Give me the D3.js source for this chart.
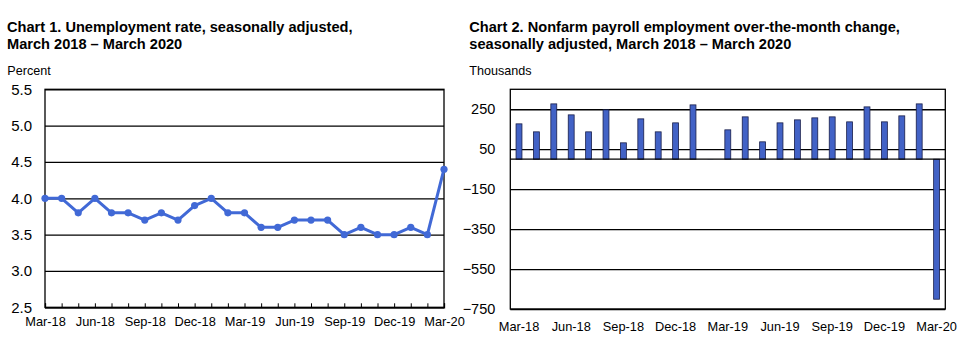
<!DOCTYPE html>
<html>
<head>
<meta charset="utf-8">
<script src="https://cdn.jsdelivr.net/npm/d3@7"></script>
<style>
  html, body { margin: 0; padding: 0; background: #fff; }
  svg { display: block; font-family: "Liberation Sans", Arial, sans-serif; }
</style>
</head>
<body>
<svg id="chart" width="977" height="346"></svg>
<script>
// ---- Data ----
const months = ["Mar-18","Apr-18","May-18","Jun-18","Jul-18","Aug-18","Sep-18","Oct-18","Nov-18","Dec-18",
  "Jan-19","Feb-19","Mar-19","Apr-19","May-19","Jun-19","Jul-19","Aug-19","Sep-19","Oct-19","Nov-19","Dec-19",
  "Jan-20","Feb-20","Mar-20"];
const unemploymentRate = [4.0,4.0,3.8,4.0,3.8,3.8,3.7,3.8,3.7,3.9,4.0,3.8,3.8,3.6,3.6,3.7,3.7,3.7,3.5,3.6,3.5,3.5,3.6,3.5,4.4];
const payrollChange = [177,137,277,222,137,247,82,202,137,182,272,1,147,212,87,182,197,207,212,187,262,187,217,277,-701];
const xTickLabels = ["Mar-18","Jun-18","Sep-18","Dec-18","Mar-19","Jun-19","Sep-19","Dec-19","Mar-20"];
const rateTicks = [2.5,3.0,3.5,4.0,4.5,5.0,5.5];
const payrollTicks = [250,50,-150,-350,-550,-750];
const title1 = ["Chart 1. Unemployment rate, seasonally adjusted,", "March 2018 \u2013 March 2020"];
const title2 = ["Chart 2. Nonfarm payroll employment over-the-month change,", "seasonally adjusted, March 2018 \u2013 March 2020"];

const svg = d3.select("#chart");
const lineColor = "#4169D6";
const barColor = "#4262C6";

// ---- Chart 1 ----
{
  const L = 45, R = 444, T = 89.3, B = 307.3;
  const g = svg.append("g");
  const tg = g.append("text").attr("font-weight", "bold").attr("font-size", 14.6).attr("fill", "#000");
  title1.forEach((t, i) => tg.append("tspan").attr("x", 7).attr("y", 31.5 + i * 17.3).text(t));
  g.append("text").attr("x", 7.3).attr("y", 75).attr("font-size", 12.6).text("Percent");

  const x = d3.scalePoint().domain(months).range([L, R]);
  const y = d3.scaleLinear().domain([2.5, 5.5]).range([B, T]);

  const ya = g.append("g").attr("transform", `translate(${L},0)`)
    .call(d3.axisLeft(y).tickValues(rateTicks).tickFormat(d3.format(".1f")).tickSize(-(R - L)).tickPadding(13));
  ya.select(".domain").remove();
  ya.selectAll(".tick line").attr("stroke", "#000").attr("stroke-width", 1.3);
  ya.selectAll(".tick text").attr("font-size", 15).attr("font-family", "Liberation Sans, Arial, sans-serif").attr("fill", "#000");

  g.append("rect").attr("x", L).attr("y", T).attr("width", R - L).attr("height", B - T)
    .attr("fill", "none").attr("stroke", "#000").attr("stroke-width", 1.3);

  const xa = g.append("g").attr("transform", `translate(0,${B})`)
    .call(d3.axisBottom(x).tickValues(months).tickSize(-4).tickPadding(10)
      .tickFormat(d => xTickLabels.includes(d) ? d : ""));
  xa.select(".domain").attr("stroke", "#000").attr("stroke-width", 1.3);
  xa.selectAll(".tick line").attr("stroke", "#000");
  xa.selectAll(".tick text").attr("font-size", 12.8).attr("font-family", "Liberation Sans, Arial, sans-serif").attr("fill", "#000");

  const line = d3.line().x((d, i) => x(months[i])).y(d => y(d));
  g.append("path").datum(unemploymentRate).attr("d", line)
    .attr("fill", "none").attr("stroke", lineColor).attr("stroke-width", 3).attr("stroke-linejoin", "round");
  g.selectAll("circle.pt").data(unemploymentRate).join("circle").attr("class", "pt")
    .attr("cx", (d, i) => x(months[i])).attr("cy", d => y(d)).attr("r", 3.6).attr("fill", lineColor);
}

// ---- Chart 2 ----
{
  const L = 510.3, R = 945.3, T = 89.3, B = 309;
  const g = svg.append("g");
  const tg = g.append("text").attr("font-weight", "bold").attr("font-size", 14.6).attr("fill", "#000");
  title2.forEach((t, i) => tg.append("tspan").attr("x", 469.3).attr("y", 31.5 + i * 17.3).text(t));
  g.append("text").attr("x", 469.3).attr("y", 75).attr("font-size", 12.6).text("Thousands");

  const x = d3.scaleBand().domain(months).range([L, R]).paddingInner(0.66).paddingOuter(0.33);
  const y = d3.scaleLinear().domain([-750, 350]).range([B, T]);

  const ya = g.append("g").attr("transform", `translate(${L},0)`)
    .call(d3.axisLeft(y).tickValues(payrollTicks).tickSize(-(R - L)).tickPadding(15));
  ya.select(".domain").remove();
  ya.selectAll(".tick line").attr("stroke", "#000").attr("stroke-width", 1.3);
  ya.selectAll(".tick text").attr("font-size", 14.5).attr("font-family", "Liberation Sans, Arial, sans-serif").attr("fill", "#000");

  g.append("rect").attr("x", L).attr("y", T).attr("width", R - L).attr("height", B - T)
    .attr("fill", "none").attr("stroke", "#000").attr("stroke-width", 1.3);

  g.selectAll("rect.bar").data(payrollChange).join("rect").attr("class", "bar")
    .attr("x", (d, i) => x(months[i]))
    .attr("width", x.bandwidth())
    .attr("y", d => y(Math.max(0, d)))
    .attr("height", d => Math.abs(y(d) - y(0)))
    .attr("fill", barColor)
    .attr("stroke", d => Math.abs(y(d) - y(0)) > 2 ? "#1a1f4a" : "none")
    .attr("stroke-width", 0.8);

  g.append("line").attr("x1", L).attr("x2", R).attr("y1", y(0)).attr("y2", y(0))
    .attr("stroke", "#000").attr("stroke-width", 1.3);

  const xa = g.append("g").attr("transform", `translate(0,${B})`)
    .call(d3.axisBottom(x).tickValues(xTickLabels).tickSize(0).tickPadding(13));
  xa.select(".domain").remove();
  xa.selectAll(".tick text").attr("font-size", 12.8).attr("font-family", "Liberation Sans, Arial, sans-serif").attr("fill", "#000");
}
</script>
</body>
</html>
